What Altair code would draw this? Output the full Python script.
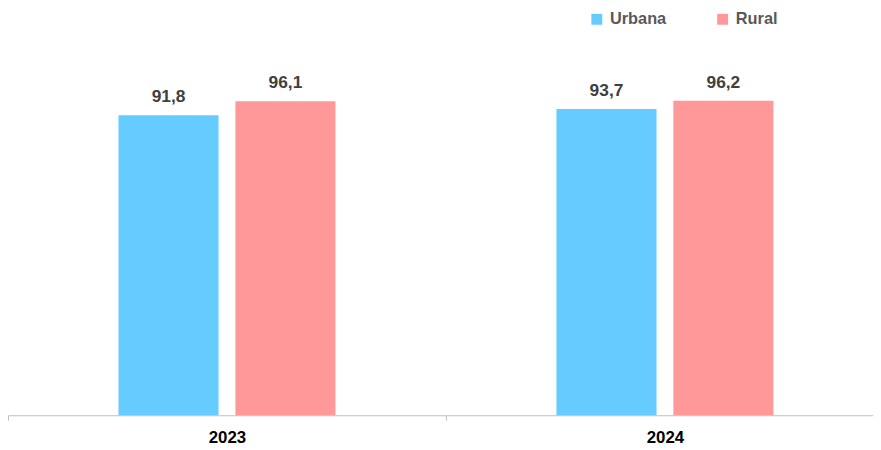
import altair as alt
import pandas as pd

years = ["2023", "2023", "2024", "2024"]
areas = ["Urbana", "Rural", "Urbana", "Rural"]
values = [91.8, 96.1, 93.7, 96.2]
labels = ["91,8", "96,1", "93,7", "96,2"]
area_order = ["Urbana", "Rural"]
area_colors = ["#66CCFF", "#FF9999"]

df = pd.DataFrame({"year": years, "area": areas, "value": values, "label": labels})

FONT = "Liberation Sans"

x = alt.X(
    "year:N",
    scale=alt.Scale(range=[0, 884], paddingInner=0, paddingOuter=0),
    axis=alt.Axis(
        title=None, labelAngle=0, tickBand="extent", domainColor="#BFBFBF",
        tickColor="#BFBFBF", tickSize=5, labelFont=FONT, labelFontSize=17,
        labelFontWeight="bold", labelColor="#000000", labelPadding=9,
    ),
)
xo = alt.XOffset(
    "area:N", sort=area_order,
    scale=alt.Scale(domain=area_order, paddingInner=0.144, paddingOuter=0.945),
)
y = alt.Y("value:Q", scale=alt.Scale(domain=[0, 124], nice=False, zero=True), axis=None)

bars = alt.Chart(df).mark_bar().encode(
    x=x, xOffset=xo, y=y,
    color=alt.Color(
        "area:N", sort=area_order,
        scale=alt.Scale(domain=area_order, range=area_colors),
        legend=alt.Legend(
            title=None, orient="none", legendX=586, legendY=1, direction="horizontal",
            symbolType="square", symbolSize=121, symbolStrokeWidth=0, labelFont=FONT,
            labelFontSize=16.5, labelFontWeight="bold", labelColor="#595959",
            labelOffset=5, columnPadding=48, padding=0,
        ),
    ),
)

text = alt.Chart(df).mark_text(
    font=FONT, fontSize=17.5, fontWeight="bold", color="#404040",
    baseline="alphabetic", dy=-13,
).encode(x=x, xOffset=xo, y=y, text="label:N")

chart = (bars + text).properties(
    width=873, height=409,
    autosize=alt.AutoSizeParams(type="none"),
    padding={"left": 0, "top": 0, "right": 0, "bottom": 30},
).configure_view(stroke=None)

chart.save("out.html", embed_options={"renderer": "svg", "actions": False})
